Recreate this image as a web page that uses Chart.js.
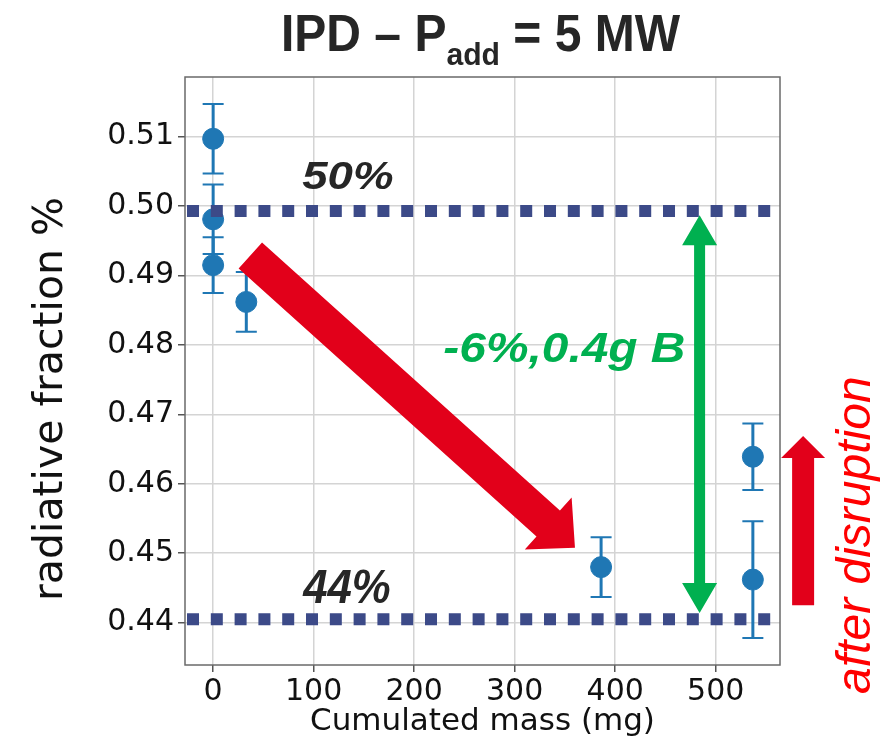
<!DOCTYPE html>
<html>
<head>
<meta charset="utf-8">
<script src="https://cdn.jsdelivr.net/npm/chart.js@4.4.1/dist/chart.umd.min.js"></script>
<style>
  html, body { margin: 0; padding: 0; background: #fff; }
  #wrap { width: 890px; height: 738px; }
</style>
</head>
<body>
<div id="wrap"><canvas id="chart" width="890" height="738"></canvas></div>
<script>
// measured points (cumulated boron mass vs radiated fraction)
const massMg = [0, 0, 0, 33, 386, 537, 537]
const radFraction = [0.5097, 0.4981, 0.4915, 0.4862, 0.4480, 0.4639, 0.4462]
const radError = [0.0050, 0.0050, 0.0040, 0.0043, 0.0043, 0.0048, 0.0084]

// reference levels (50% / 44%) and how far the dotted lines run
const refLevels = [0.4993, 0.4405]
const refSpan = [-26, 556]

const xTicks = [0, 100, 200, 300, 400, 500]
const yTicks = [0.44, 0.45, 0.46, 0.47, 0.48, 0.49, 0.50, 0.51]

const BLUE = "#1f77b4"
const NAVY = "#3c4a88"
const RED = "#e2001a"
const GREEN = "#00b050"
const INK = "#262626"

function arrow(ctx, x0, y0, x1, y1, shaftW, headW, headL, color, both) {
  const len = Math.hypot(x1 - x0, y1 - y0)
  ctx.save()
  ctx.translate(x0, y0)
  ctx.rotate(Math.atan2(y1 - y0, x1 - x0))
  ctx.fillStyle = color
  ctx.beginPath()
  const s = shaftW / 2, h = headW / 2
  const start = both ? headL : 0
  ctx.moveTo(start, -s)
  ctx.lineTo(len - headL, -s)
  ctx.lineTo(len - headL, -h)
  ctx.lineTo(len, 0)
  ctx.lineTo(len - headL, h)
  ctx.lineTo(len - headL, s)
  ctx.lineTo(start, s)
  if (both) {
    ctx.lineTo(headL, h)
    ctx.lineTo(0, 0)
    ctx.lineTo(headL, -h)
  }
  ctx.closePath()
  ctx.fill()
  ctx.restore()
}

// text drawn at a point with its own stretch, the slide text is not plain Arial
function label(ctx, text, px, py, font, color, sx, sy) {
  ctx.save()
  ctx.translate(px, py)
  ctx.scale(sx, sy)
  ctx.font = font
  ctx.fillStyle = color
  ctx.fillText(text, 0, 0)
  ctx.restore()
}

const decorations = {
  id: "decorations",
  beforeDatasetsDraw(chart) {
    const { ctx, scales: { x, y } } = chart
    ctx.save()
    ctx.strokeStyle = BLUE
    massMg.forEach((m, i) => {
      const px = x.getPixelForValue(m)
      const top = y.getPixelForValue(radFraction[i] + radError[i])
      const bot = y.getPixelForValue(radFraction[i] - radError[i])
      ctx.lineWidth = 3
      ctx.beginPath()
      ctx.moveTo(px, top)
      ctx.lineTo(px, bot)
      ctx.stroke()
      ctx.lineWidth = 2
      ctx.beginPath()
      ctx.moveTo(px - 10.5, top); ctx.lineTo(px + 10.5, top)
      ctx.moveTo(px - 10.5, bot); ctx.lineTo(px + 10.5, bot)
      ctx.stroke()
    })
    ctx.restore()
  },
  afterDatasetsDraw(chart) {
    const { ctx, scales: { x, y } } = chart
    ctx.save()
    // trend arrow
    arrow(ctx, x.getPixelForValue(37), y.getPixelForValue(0.4929),
      x.getPixelForValue(360), y.getPixelForValue(0.4508), 35, 70, 36, RED, false)
    // drop between the two levels
    arrow(ctx, x.getPixelForValue(484), y.getPixelForValue(0.4987),
      x.getPixelForValue(484), y.getPixelForValue(0.4414), 11, 35, 30, GREEN, true)
    // recovery after disruption
    arrow(ctx, x.getPixelForValue(587), y.getPixelForValue(0.4425),
      x.getPixelForValue(587), y.getPixelForValue(0.4669), 22, 44, 22, RED, false)

    ctx.textAlign = "left"
    ctx.textBaseline = "alphabetic"
    const boldItalic = "italic bold 38px 'Liberation Sans', Arial, sans-serif"
    label(ctx, "50%", x.getPixelForValue(88.6), y.getPixelForValue(0.5025), boldItalic, INK, 1.2, 1)
    label(ctx, "44%", x.getPixelForValue(89.6), y.getPixelForValue(0.4428), boldItalic, INK, 1.15, 1.27)
    label(ctx, "-6%,0.4g B", x.getPixelForValue(229), y.getPixelForValue(0.4775),
      "italic bold 42px 'Liberation Sans', Arial, sans-serif", GREEN, 1.14, 1)

    ctx.save()
    ctx.translate(x.getPixelForValue(654), y.getPixelForValue(0.4526))
    ctx.rotate(-Math.PI / 2)
    ctx.textAlign = "center"
    ctx.fillStyle = "#ff0000"
    ctx.font = "italic 48px 'Liberation Sans', Arial, sans-serif"
    ctx.fillText("after disruption", 0, 0)
    ctx.restore()
    ctx.restore()
  },
  afterDraw(chart) {
    const { ctx, chartArea: a } = chart
    ctx.save()
    // frame
    ctx.strokeStyle = "#6a6a6a"
    ctx.lineWidth = 1.5
    ctx.strokeRect(a.left, a.top, a.right - a.left, a.bottom - a.top)

    // title with subscript, squeezed to the reference width
    const big = "bold 51px 'Liberation Sans', Arial, sans-serif"
    const small = "bold 32px 'Liberation Sans', Arial, sans-serif"
    const parts = [["IPD \u2013 P", big, 0], ["add", small, 14], [" = 5 MW", big, 0]]
    let total = 0
    parts.forEach((p) => { ctx.font = p[1]; total += ctx.measureText(p[0]).width })
    const sx = 399 / total
    ctx.fillStyle = INK
    ctx.textAlign = "left"
    ctx.textBaseline = "alphabetic"
    ctx.translate(281, 51)
    ctx.scale(sx, 1)
    let cx = 0
    parts.forEach((p) => {
      ctx.font = p[1]
      ctx.fillText(p[0], cx, p[2])
      cx += ctx.measureText(p[0]).width
    })
    ctx.setTransform(1, 0, 0, 1, 0, 0)

    // axis titles
    ctx.fillStyle = "#111"
    ctx.textAlign = "center"
    ctx.font = "31px 'DejaVu Sans', sans-serif"
    ctx.fillText("Cumulated mass (mg)", (a.left + a.right) / 2, 730)
    ctx.translate(62, (a.top + a.bottom) / 2 + 28)
    ctx.rotate(-Math.PI / 2)
    ctx.font = "41px 'DejaVu Sans', sans-serif"
    ctx.fillText("radiative fraction %", 0, 0)
    ctx.restore()
  },
}

const points = massMg.map((m, i) => ({ x: m, y: radFraction[i] }))
const refLines = refLevels.map((level) => ({
  type: "line",
  data: refSpan.map((v) => ({ x: v, y: level })),
  borderColor: NAVY,
  borderWidth: 12,
  borderDash: [12, 11.8],
  borderCapStyle: "butt",
  pointRadius: 0,
  fill: false,
  order: 0,
}))

new Chart(document.getElementById("chart"), {
  type: "scatter",
  data: {
    datasets: [
      {
        data: points,
        backgroundColor: BLUE,
        borderColor: BLUE,
        pointRadius: 10.5,
        pointHoverRadius: 10.5,
        order: 1,
      },
      ...refLines,
    ],
  },
  options: {
    responsive: false,
    animation: false,
    layout: { padding: { left: 0, top: 77, right: 110, bottom: 0 } },
    plugins: { legend: { display: false }, tooltip: { enabled: false }, title: { display: false } },
    scales: {
      x: {
        type: "linear",
        min: -28,
        max: 564,
        afterFit: (scale) => { scale.height = 73 },
        afterBuildTicks: (scale) => { scale.ticks = xTicks.map((v) => ({ value: v })) },
        grid: { color: "#d4d4d4", lineWidth: 1.5, tickLength: 7, tickColor: "#555" },
        border: { display: false },
        ticks: { color: "#111", padding: 2, font: { family: "'DejaVu Sans', sans-serif", size: 30 } },
      },
      y: {
        type: "linear",
        min: 0.4339,
        max: 0.5186,
        afterFit: (scale) => { scale.width = 185 },
        afterBuildTicks: (scale) => { scale.ticks = yTicks.map((v) => ({ value: v })) },
        grid: { color: "#d4d4d4", lineWidth: 1.5, tickLength: 7, tickColor: "#555" },
        border: { display: false },
        ticks: {
          color: "#111",
          padding: 4,
          font: { family: "'DejaVu Sans', sans-serif", size: 30 },
          callback: (v) => v.toFixed(2),
        },
      },
    },
  },
  plugins: [decorations],
})
</script>
</body>
</html>
